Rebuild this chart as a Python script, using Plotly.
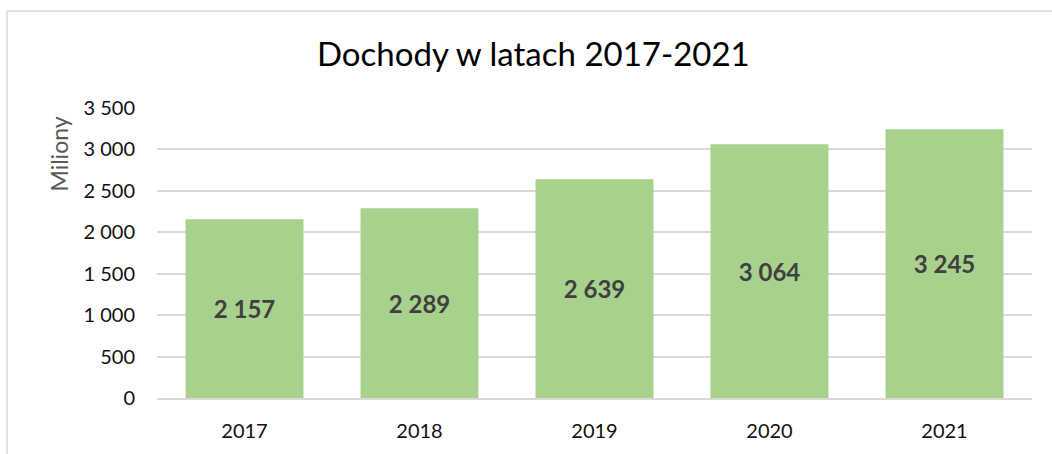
import plotly.graph_objects as go

years = ["2017", "2018", "2019", "2020", "2021"]
values = [2157, 2289, 2639, 3064, 3245]
tick_vals = [0, 500, 1000, 1500, 2000, 2500, 3000, 3500]

W, H = 1052, 454
ml, mr, mt, mb = 157, 20, 108, 53
pw, ph = W - ml - mr, H - mt - mb

def px_x(p):
    return (p - ml) / pw

def px_y(p):
    return (H - mb - p) / ph

FONT = "Lato, Calibri, 'Open Sans', sans-serif"

fig = go.Figure(go.Bar(
    x=years, y=values,
    marker=dict(color="#a9d18e", line=dict(width=0)),
    text=values, texttemplate="%{y:,d}",
    textposition="inside", insidetextanchor="middle",
    textfont=dict(size=24, color="#404040", family=FONT, weight="bold"),
    hoverinfo="skip",
))

fig.update_layout(
    width=W, height=H,
    margin=dict(l=ml, r=mr, t=mt, b=mb),
    paper_bgcolor="white", plot_bgcolor="white",
    separators=", ",
    bargap=0.326,
    showlegend=False,
    title=dict(text="Dochody w latach 2017-2021", x=0.507, xanchor="center",
               y=1 - 54 / H, yanchor="middle",
               font=dict(size=33, color="#000000", family=FONT)),
    font=dict(family=FONT),
    xaxis=dict(showgrid=False, ticks="", ticklen=0, showline=True, linecolor="#d9d9d9",
               linewidth=1.5, ticklabelstandoff=14,
               tickfont=dict(size=20, color="#111111", family=FONT)),
    yaxis=dict(range=[0, 3500], tickvals=tick_vals, tickformat=",d",
               showgrid=True, gridcolor="#d9d9d9", gridwidth=1.5,
               zeroline=False, ticks="", ticklen=0, ticklabelstandoff=21,
               tickfont=dict(size=20, color="#111111", family=FONT)),
    annotations=[
        dict(text="Miliony", xref="paper", yref="paper",
             x=px_x(59), y=px_y(155), xanchor="center", yanchor="middle",
             textangle=-90, showarrow=False,
             font=dict(size=23, color="#595959", family=FONT)),
    ],
    shapes=[
        dict(type="line", xref="paper", yref="paper",
             x0=px_x(7), x1=px_x(W + 5), y0=px_y(10), y1=px_y(10),
             line=dict(color="#d9d9d9", width=1.5)),
        dict(type="line", xref="paper", yref="paper",
             x0=px_x(7), x1=px_x(7), y0=px_y(10), y1=px_y(H + 5),
             line=dict(color="#d9d9d9", width=1.5)),
    ],
)

fig.write_html("out.html", config={"displayModeBar": False},
               post_script="document.body.style.margin='0';document.body.style.overflow='hidden';")
